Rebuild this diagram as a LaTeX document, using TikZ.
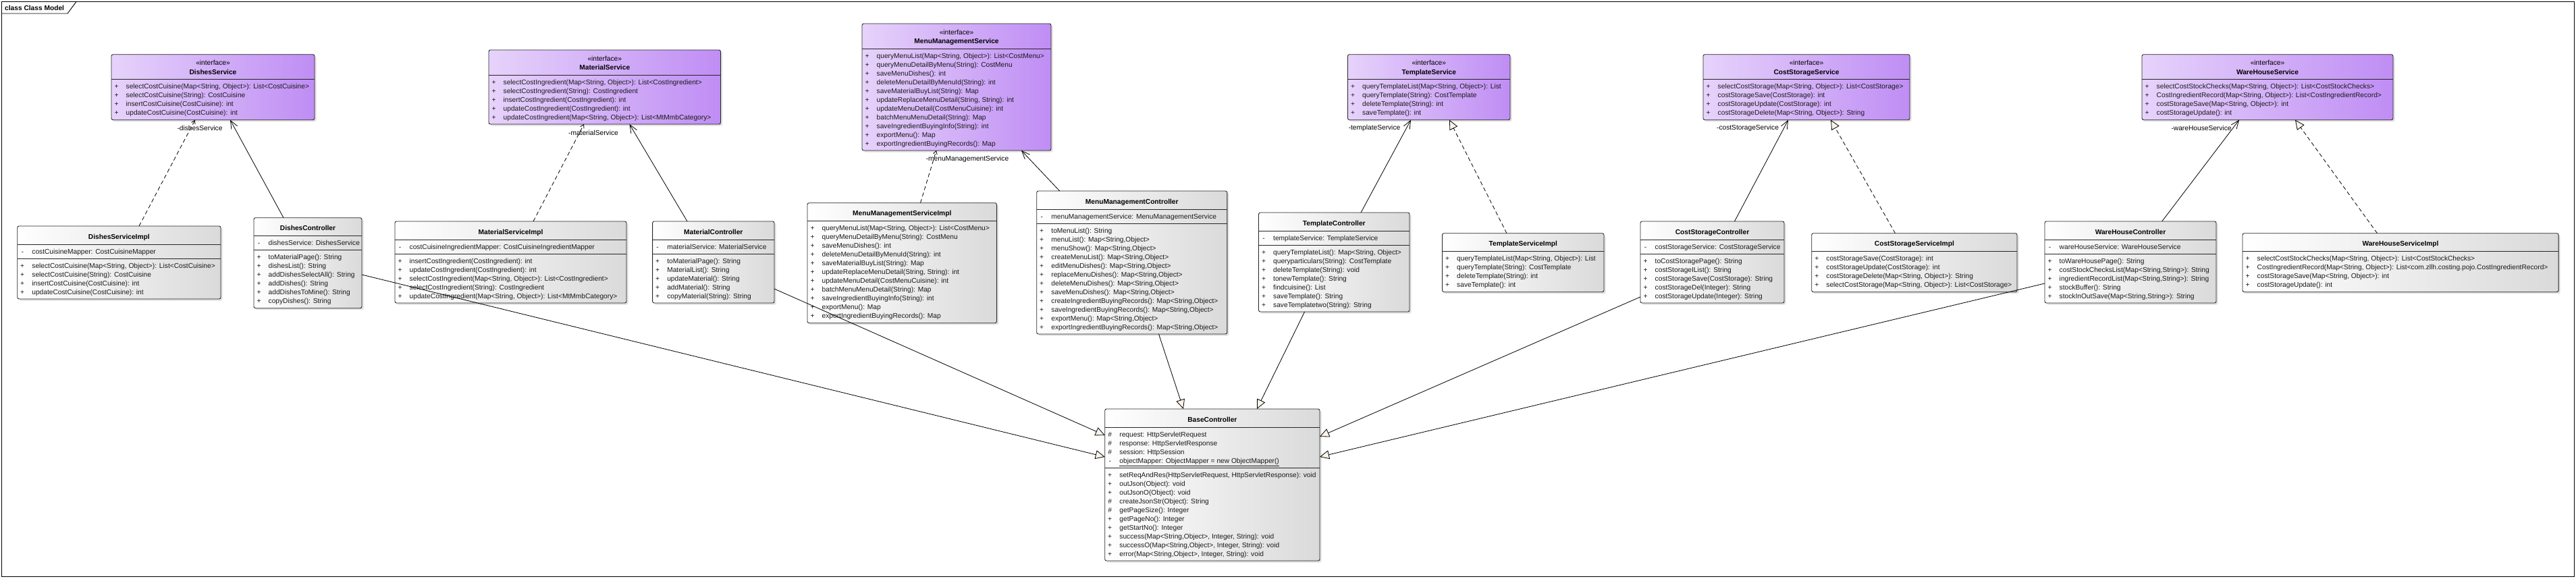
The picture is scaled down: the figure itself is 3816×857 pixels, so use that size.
\documentclass[tikz,border=0pt]{standalone}
\usepackage{fontspec}
\setmainfont{Liberation Sans}
\usetikzlibrary{calc,arrows.meta,shadows}
\definecolor{ifL}{HTML}{E6D3FB}
\definecolor{ifR}{HTML}{BF8DF4}
\definecolor{clsR}{HTML}{DADADA}
\definecolor{triF}{HTML}{FBF4EA}
\newcommand{\fs}{\fontsize{10.2}{12}\selectfont}
\tikzset{
  boxbase/.style={draw=black!85, line width=0.9pt, rounded corners=2.5pt, inner sep=0pt, outer sep=0pt,
    drop shadow={shadow xshift=2.5pt, shadow yshift=-2.5pt, opacity=0.25}},
  ifc/.style={boxbase, left color=ifL, right color=ifR},
  cls/.style={boxbase, left color=white, right color=clsR},
  sepline/.style={draw=black!85, line width=0.9pt},
  mem/.style={font=\fs, inner sep=0pt, text=black!90},
  ttl/.style={font=\fs\bfseries, inner sep=0pt, anchor=base},
  ster/.style={font=\fs, inner sep=0pt, anchor=base},
  lbl/.style={font=\fs, inner sep=0pt},
  conn/.style={line width=0.8pt, draw=black},
  assoc/.style={conn, -{Straight Barb[length=12pt,width=10pt]}},
  realz/.style={conn, dash pattern=on 6pt off 4pt, -{Triangle[length=14pt,width=13pt,fill=triF]}},
  realzs/.style={conn, dash pattern=on 6pt off 4pt, -{Straight Barb[length=5pt,width=6pt]}},
  gen/.style={conn, -{Triangle[length=14pt,width=13pt,fill=triF]}},
}
\newcommand{\umlnode}[6]{\node[#2, minimum width=#5pt, minimum height=#6pt, anchor=north west] (#1) at (#3,#4) {};}
\newcommand{\umlsep}[2]{\draw[sepline] ($(#1.north west)+(0,#2)$) -- ($(#1.north east)+(0,#2)$);}
\newcommand{\clstitle}[2]{\node[ttl] at ($(#1.north)+(0,19)$) {#2};}
\newcommand{\iftitle}[2]{\node[ster] at ($(#1.north)+(0,16)$) {«interface»};\node[ttl] at ($(#1.north)+(0,29.5)$) {#2};}
\newcommand{\umlmembers}[3]{%
  \foreach \v/\t [count=\i from 0] in {#3} {
    \node[mem, anchor=base] at ($(#1.north west)+(7.5,#2+14.2+13*\i)$) {\v};
    \node[mem, anchor=base west] at ($(#1.north west)+(21.5,#2+14.2+13*\i)$) {\t};
  }}
\begin{document}
\begin{tikzpicture}[x=1pt,y=-1pt]
\useasboundingbox (0,0) rectangle (3816,857);
% frame
\draw[line width=0.9pt] (2.5,2.5) rectangle (3813,854);
\draw[line width=0.9pt] (2.5,20) -- (100,20) -- (113,2.5);
\node[font=\fs\bfseries, anchor=west, inner sep=0pt] (frm) at (7,11.5) {class Class Model};

% ---------- interfaces ----------
\umlnode{ds}{ifc}{165}{80.7}{301}{97}
\iftitle{ds}{DishesService}
\umlsep{ds}{37}
\umlmembers{ds}{37}{+/{selectCostCuisine(Map<String, Object>): List<CostCuisine>},+/{selectCostCuisine(String): CostCuisine},+/{insertCostCuisine(CostCuisine): int},+/{updateCostCuisine(CostCuisine): int}}

\umlnode{ms}{ifc}{724}{74}{343.5}{110}
\iftitle{ms}{MaterialService}
\umlsep{ms}{37}
\umlmembers{ms}{37}{+/{selectCostIngredient(Map<String, Object>): List<CostIngredient>},+/{selectCostIngredient(String): CostIngredient},+/{insertCostIngredient(CostIngredient): int},+/{updateCostIngredient(CostIngredient): int},+/{updateCostIngredient(Map<String, Object>): List<MtMmbCategory>}}

\umlnode{mms}{ifc}{1277}{35}{280}{188}
\iftitle{mms}{MenuManagementService}
\umlsep{mms}{37}
\umlmembers{mms}{37}{+/{queryMenuList(Map<String, Object>): List<CostMenu>},+/{queryMenuDetailByMenu(String): CostMenu},+/{saveMenuDishes(): int},+/{deleteMenuDetailByMenuId(String): int},+/{saveMaterialBuyList(String): Map},+/{updateReplaceMenuDetail(String, String): int},+/{updateMenuDetail(CostMenuCuisine): int},+/{batchMenuMenuDetail(String): Map},+/{saveIngredientBuyingInfo(String): int},+/{exportMenu(): Map},+/{exportIngredientBuyingRecords(): Map}}

\umlnode{ts}{ifc}{1996.5}{80.7}{240.5}{97}
\iftitle{ts}{TemplateService}
\umlsep{ts}{37}
\umlmembers{ts}{37}{+/{queryTemplateList(Map<String, Object>): List},+/{queryTemplate(String): CostTemplate},+/{deleteTemplate(String): int},+/{saveTemplate(): int}}

\umlnode{css}{ifc}{2523}{80.7}{306}{97}
\iftitle{css}{CostStorageService}
\umlsep{css}{37}
\umlmembers{css}{37}{+/{selectCostStorage(Map<String, Object>): List<CostStorage>},+/{costStorageSave(CostStorage): int},+/{costStorageUpdate(CostStorage): int},+/{costStorageDelete(Map<String, Object>): String}}

\umlnode{whs}{ifc}{3173}{80.7}{372}{97}
\iftitle{whs}{WareHouseService}
\umlsep{whs}{37}
\umlmembers{whs}{37}{+/{selectCostStockChecks(Map<String, Object>): List<CostStockChecks>},+/{CostIngredientRecord(Map<String, Object>): List<CostIngredientRecord>},+/{costStorageSave(Map<String, Object>): int},+/{costStorageUpdate(): int}}

% ---------- classes ----------
\umlnode{dsi}{cls}{25.7}{335}{301.3}{108}
\clstitle{dsi}{DishesServiceImpl}
\umlsep{dsi}{27}\umlsep{dsi}{48}
\umlmembers{dsi}{27}{-/{costCuisineMapper: CostCuisineMapper}}
\umlmembers{dsi}{48}{+/{selectCostCuisine(Map<String, Object>): List<CostCuisine>},+/{selectCostCuisine(String): CostCuisine},+/{insertCostCuisine(CostCuisine): int},+/{updateCostCuisine(CostCuisine): int}}

\umlnode{dc}{cls}{376}{322.7}{160}{134}
\clstitle{dc}{DishesController}
\umlsep{dc}{27}\umlsep{dc}{48}
\umlmembers{dc}{27}{-/{dishesService: DishesService}}
\umlmembers{dc}{48}{+/{toMaterialPage(): String},+/{dishesList(): String},+/{addDishesSelectAll(): String},+/{addDishes(): String},+/{addDishesToMine(): String},+/{copyDishes(): String}}

\umlnode{msi}{cls}{585}{328}{343}{121}
\clstitle{msi}{MaterialServiceImpl}
\umlsep{msi}{27}\umlsep{msi}{48}
\umlmembers{msi}{27}{-/{costCuisineIngredientMapper: CostCuisineIngredientMapper}}
\umlmembers{msi}{48}{+/{insertCostIngredient(CostIngredient): int},+/{updateCostIngredient(CostIngredient): int},+/{selectCostIngredient(Map<String, Object>): List<CostIngredient>},+/{selectCostIngredient(String): CostIngredient},+/{updateCostIngredient(Map<String, Object>): List<MtMmbCategory>}}

\umlnode{mc}{cls}{966.6}{328}{180.4}{121}
\clstitle{mc}{MaterialController}
\umlsep{mc}{27}\umlsep{mc}{48}
\umlmembers{mc}{27}{-/{materialService: MaterialService}}
\umlmembers{mc}{48}{+/{toMaterialPage(): String},+/{MaterialList(): String},+/{updateMaterial(): String},+/{addMaterial(): String},+/{copyMaterial(String): String}}

\umlnode{mmsi}{cls}{1196}{300.7}{280.5}{178}
\clstitle{mmsi}{MenuManagementServiceImpl}
\umlsep{mmsi}{27}
\umlmembers{mmsi}{27}{+/{queryMenuList(Map<String, Object>): List<CostMenu>},+/{queryMenuDetailByMenu(String): CostMenu},+/{saveMenuDishes(): int},+/{deleteMenuDetailByMenuId(String): int},+/{saveMaterialBuyList(String): Map},+/{updateReplaceMenuDetail(String, String): int},+/{updateMenuDetail(CostMenuCuisine): int},+/{batchMenuMenuDetail(String): Map},+/{saveIngredientBuyingInfo(String): int},+/{exportMenu(): Map},+/{exportIngredientBuyingRecords(): Map}}

\umlnode{mmc}{cls}{1535.7}{283}{282.1}{212}
\clstitle{mmc}{MenuManagementController}
\umlsep{mmc}{27}\umlsep{mmc}{48}
\umlmembers{mmc}{27}{-/{menuManagementService: MenuManagementService}}
\umlmembers{mmc}{48}{+/{toMenuList(): String},+/{menuList(): Map<String,Object>},+/{menuShow(): Map<String,Object>},+/{createMenuList(): Map<String,Object>},+/{editMenuDishes(): Map<String,Object>},+/{replaceMenuDishes(): Map<String,Object>},+/{deleteMenuDishes(): Map<String,Object>},+/{saveMenuDishes(): Map<String,Object>},+/{createIngredientBuyingRecords(): Map<String,Object>},+/{saveIngredientBuyingRecords(): Map<String,Object>},+/{exportMenu(): Map<String,Object>},+/{exportIngredientBuyingRecords(): Map<String,Object>}}

\umlnode{tc}{cls}{1864.5}{315}{223.5}{147}
\clstitle{tc}{TemplateController}
\umlsep{tc}{27}\umlsep{tc}{48}
\umlmembers{tc}{27}{-/{templateService: TemplateService}}
\umlmembers{tc}{48}{+/{queryTemplateList(): Map<String, Object>},+/{queryparticulars(String): CostTemplate},+/{deleteTemplate(String): void},+/{tonewTemplate(): String},+/{findcuisine(): List},+/{saveTemplate(): String},+/{saveTemplatetwo(String): String}}

\umlnode{tsi}{cls}{2136.5}{345.7}{239.5}{87}
\clstitle{tsi}{TemplateServiceImpl}
\umlsep{tsi}{27}
\umlmembers{tsi}{27}{+/{queryTemplateList(Map<String, Object>): List},+/{queryTemplate(String): CostTemplate},+/{deleteTemplate(String): int},+/{saveTemplate(): int}}

\umlnode{csc}{cls}{2430}{328}{213}{121}
\clstitle{csc}{CostStorageController}
\umlsep{csc}{27}\umlsep{csc}{48}
\umlmembers{csc}{27}{-/{costStorageService: CostStorageService}}
\umlmembers{csc}{48}{+/{toCostStoragePage(): String},+/{costStorageIList(): String},+/{costStorageSave(CostStorage): String},+/{costStorageDel(Integer): String},+/{costStorageUpdate(Integer): String}}

\umlnode{cssi}{cls}{2683.7}{345.7}{304.3}{87}
\clstitle{cssi}{CostStorageServiceImpl}
\umlsep{cssi}{27}
\umlmembers{cssi}{27}{+/{costStorageSave(CostStorage): int},+/{costStorageUpdate(CostStorage): int},+/{costStorageDelete(Map<String, Object>): String},+/{selectCostStorage(Map<String, Object>): List<CostStorage>}}

\umlnode{whc}{cls}{3029}{328}{254}{121}
\clstitle{whc}{WareHouseController}
\umlsep{whc}{27}\umlsep{whc}{48}
\umlmembers{whc}{27}{-/{wareHouseService: WareHouseService}}
\umlmembers{whc}{48}{+/{toWareHousePage(): String},+/{costStockChecksList(Map<String,String>): String},+/{ingredientRecordList(Map<String,String>): String},+/{stockBuffer(): String},+/{stockInOutSave(Map<String,String>): String}}

\umlnode{whsi}{cls}{3322}{345.7}{468}{87}
\clstitle{whsi}{WareHouseServiceImpl}
\umlsep{whsi}{27}
\umlmembers{whsi}{27}{+/{selectCostStockChecks(Map<String, Object>): List<CostStockChecks>},+/{CostIngredientRecord(Map<String, Object>): List<com.zllh.costing.pojo.CostIngredientRecord>},+/{costStorageSave(Map<String, Object>): int},+/{costStorageUpdate(): int}}

\umlnode{bc}{cls}{1636.7}{606}{318.3}{225}
\clstitle{bc}{BaseController}
\umlsep{bc}{27}\umlsep{bc}{87}
\umlmembers{bc}{27}{\#/{request: HttpServletRequest},\#/{response: HttpServletResponse},\#/{session: HttpSession},-/{\underline{objectMapper: ObjectMapper = new ObjectMapper()}}}
\umlmembers{bc}{87}{+/{setReqAndRes(HttpServletRequest, HttpServletResponse): void},+/{outJson(Object): void},+/{outJsonO(Object): void},\#/{createJsonStr(Object): String},\#/{getPageSize(): Integer},+/{getPageNo(): Integer},+/{getStartNo(): Integer},+/{success(Map<String,Object>, Integer, String): void},+/{successO(Map<String,Object>, Integer, String): void},+/{error(Map<String,Object>, Integer, String): void}}

% ---------- associations ----------
\draw[assoc] ($(dc.north west)+(44,0)$) -- ($(ds.south west)+(176,0)$);
\draw[assoc] ($(mc.north west)+(51.4,0)$) -- ($(ms.south west)+(208.5,0)$);
\draw[assoc] ($(mmc.north west)+(34,0)$) -- ($(mms.south west)+(236,0)$);
\draw[assoc] ($(tc.north west)+(151.5,0)$) -- ($(ts.south west)+(93.5,0)$);
\draw[assoc] ($(csc.north west)+(139.5,0)$) -- ($(css.south west)+(126,0)$);
\draw[assoc] ($(whc.north west)+(173.7,0)$) -- ($(whs.south west)+(144,0)$);
% labels
\node[lbl] (l1) at ($(ds.south west)+(131,12.5)$) {-dishesService};
\node[lbl] (l2) at ($(ms.south west)+(155,12.7)$) {-materialService};
\node[lbl] (l3) at ($(mms.south west)+(156,13)$) {-menuManagementService};
\node[lbl] (l4) at ($(ts.south west)+(39.5,12.3)$) {-templateService};
\node[lbl] (l5) at ($(css.south west)+(66,12.3)$) {-costStorageService};
\node[lbl] (l6) at ($(whs.south west)+(88,12.3)$) {-wareHouseService};

% ---------- realizations ----------
\draw[realzs] ($(dsi.north west)+(180.3,0)$) -- ($(ds.south west)+(124,0)$);
\draw[realzs] ($(msi.north west)+(205,0)$) -- ($(ms.south west)+(141,0)$);
\draw[realzs] ($(mmsi.north west)+(167.5,0)$) -- ($(mms.south west)+(110,0)$);
\draw[realz] ($(tsi.north west)+(95.5,0)$) -- ($(ts.south west)+(150.5,0)$);
\draw[realz] ($(cssi.north west)+(123.8,0)$) -- ($(css.south west)+(189,0)$);
\draw[realz] ($(whsi.north west)+(199.5,0)$) -- ($(whs.south west)+(227,0)$);

% ---------- generalizations ----------
\draw[gen] ($(dc.north east)+(0,84.3)$) -- ($(bc.north west)+(0,71)$);
\draw[gen] ($(mc.north east)+(0,100)$) -- ($(bc.north west)+(0,39)$);
\draw[gen] ($(mmc.south west)+(180.8,0)$) -- ($(bc.north west)+(116.3,0)$);
\draw[gen] ($(tc.south west)+(68.1,0)$) -- ($(bc.north west)+(225.3,0)$);
\draw[gen] ($(csc.north west)+(0,112)$) -- ($(bc.north east)+(0,41)$);
\draw[gen] ($(whc.north west)+(0,92)$) -- ($(bc.north east)+(0,71)$);
\end{tikzpicture}
\end{document}
